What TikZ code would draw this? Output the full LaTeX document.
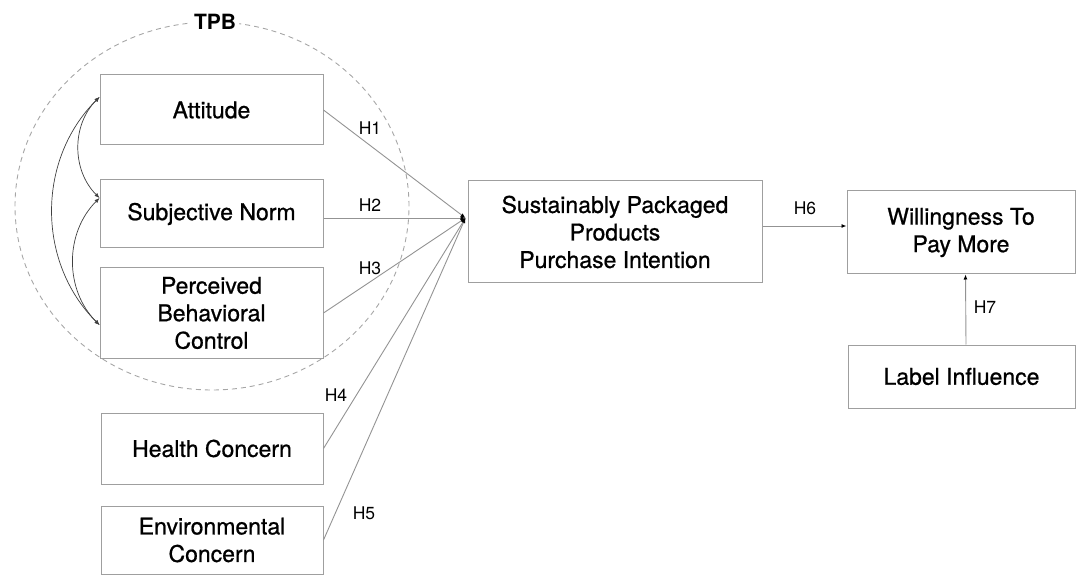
\documentclass[tikz,border=0pt]{standalone}
\usepackage{fontspec}
\setmainfont{TeX Gyre Heros}
\newfontfamily\medfont{TeX Gyre Heros}[FakeBold=0.8]
\usetikzlibrary{arrows.meta,positioning,calc}

\begin{document}
\begin{tikzpicture}[
    x=1pt, y=1pt,
    every node/.style={font=\medfont\fontsize{23}{27.5}\selectfont},
    box/.style={draw=gray!75, line width=1pt, align=center, inner sep=2pt},
    conn/.style={-{Latex[length=5pt,width=4pt,color=black]}, gray!85, line width=0.9pt},
    cov/.style={{Latex[length=5pt,width=4pt]}-{Latex[length=5pt,width=4pt]}, black!75, line width=0.7pt},
    hyp/.style={font=\normalfont\fontsize{17.5}{21}\selectfont},
    group/.style={draw=gray!70, dashed, dash pattern=on 5pt off 4pt, line width=0.9pt}
]
\useasboundingbox (0,0) rectangle (1077,574);

% ---- TPB group ----
\draw[group] (212,368) ellipse [x radius=197, y radius=184];
\node[fill=white, inner sep=3pt, font=\bfseries\fontsize{21}{25}\selectfont] (tpb) at (215,552) {TPB};

% ---- antecedents ----
\node[box, minimum width=223, minimum height=70] (att) at (211.5,464) {Attitude};
\node[box, minimum width=223, minimum height=68] (sn) at (211.5,360) {Subjective Norm};
\node[box, minimum width=223, minimum height=90] (pbc) at (211.5,261) {Perceived\\Behavioral\\Control};
\node[box, minimum width=222, minimum height=71] (hc) at (212,125.5) {Health Concern};
\node[box, minimum width=222, minimum height=68] (ec) at (212,34) {Environmental\\Concern};

% ---- outcomes ----
\node[box, minimum width=294, minimum height=102] (spi) at (615,342) {Sustainably Packaged\\Products\\Purchase Intention};
\node[box, minimum width=228, minimum height=83] (wtp) at (961,341.5) {Willingness To\\Pay More};
\node[box, minimum width=227, minimum height=63] (li) at (961.5,197.5) {Label Influence};

% ---- covariances ----
\coordinate (attL) at ($(att.west)+(0,13)$);
\coordinate (snL) at ($(sn.west)+(0,16)$);
\coordinate (pbcL) at ($(pbc.west)+(0,-12)$);
\draw[cov] (snL) to[out=135, in=225] (attL);
\draw[cov] (snL) to[out=225, in=135] (pbcL);
\draw[cov] (attL) to[out=225, in=135] (pbcL);

% ---- paths ----
\coordinate (conv) at ($(spi.west)+(-2,14)$);
\draw[conn] (att.east) -- (conv);
\draw[conn] (sn.east |- conv) -- (conv);
\draw[conn] (pbc.east) -- (conv);
\draw[conn] (hc.east) -- (conv);
\draw[conn] (ec.east) -- (conv);
\coordinate (h6s) at ($(spi.east)+(0,6)$);
\draw[conn] (h6s) -- (h6s -| wtp.west);
\draw[conn] ($(li.north)+(4.5,0)$) -- ($(wtp.south)+(4.5,0)$);

\node[hyp] (h1) at (370,446) {H1};
\node[hyp] (h2) at (370,369) {H2};
\node[hyp] (h3) at (370,306) {H3};
\node[hyp] (h4) at (336,179) {H4};
\node[hyp] (h5) at (364,61) {H5};
\node[hyp] (h6) at (805,366) {H6};
\node[hyp] (h7) at (985,267) {H7};
\end{tikzpicture}
\end{document}
